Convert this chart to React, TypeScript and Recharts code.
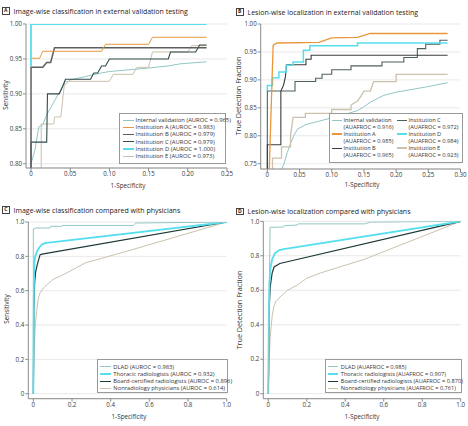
import React from 'react';
import { LineChart, Line, XAxis, YAxis, CartesianGrid } from 'recharts';

type Pt = [number, number];

// Panel A: image-wise classification, external validation (x = 1-specificity, y = sensitivity)
const aInternal: Pt[] = [[0, 0.8], [0.005, 0.82], [0.01, 0.853], [0.015, 0.856], [0.02, 0.87], [0.025, 0.88], [0.03, 0.89], [0.035, 0.9], [0.04, 0.91], [0.045, 0.915], [0.05, 0.92], [0.07, 0.925], [0.09, 0.93], [0.1, 0.932], [0.13, 0.935], [0.15, 0.937], [0.175, 0.94], [0.19, 0.943], [0.224, 0.946]];
const aInstA: Pt[] = [[0, 0.951], [0.011, 0.951], [0.015, 0.961], [0.09, 0.961], [0.095, 0.971], [0.15, 0.971], [0.155, 0.981], [0.224, 0.981]];
const aInstB: Pt[] = [[0, 0.79], [0, 0.938], [0.015, 0.938], [0.02, 0.945], [0.025, 0.945], [0.03, 0.966], [0.224, 0.966]];
const aInstC: Pt[] = [[0, 0.79], [0, 0.831], [0.02, 0.831], [0.021, 0.9], [0.036, 0.9], [0.04, 0.91], [0.044, 0.921], [0.076, 0.921], [0.08, 0.93], [0.085, 0.93], [0.09, 0.94], [0.095, 0.94], [0.1, 0.95], [0.175, 0.95], [0.178, 0.96], [0.21, 0.96], [0.215, 0.97], [0.224, 0.97]];
const aInstD: Pt[] = [[0, 0.94], [0, 1.0], [0.224, 1.0]];
const aInstE: Pt[] = [[0.013, 0.79], [0.013, 0.857], [0.029, 0.857], [0.03, 0.867], [0.038, 0.867], [0.043, 0.918], [0.1, 0.918], [0.105, 0.928], [0.13, 0.928], [0.135, 0.938], [0.15, 0.938], [0.155, 0.96], [0.2, 0.96], [0.205, 0.969], [0.224, 0.969]];

// Panel B: lesion-wise localization, external validation (y = true detection fraction)
const bInternal: Pt[] = [[0.022, 0.74], [0.026, 0.75], [0.031, 0.77], [0.036, 0.786], [0.041, 0.8], [0.047, 0.812], [0.06, 0.82], [0.08, 0.826], [0.1, 0.832], [0.12, 0.838], [0.14, 0.845], [0.15, 0.852], [0.16, 0.86], [0.17, 0.866], [0.18, 0.872], [0.2, 0.878], [0.22, 0.882], [0.25, 0.888], [0.28, 0.895]];
const bInstA: Pt[] = [[0.003, 0.74], [0.009, 0.962], [0.015, 0.966], [0.08, 0.967], [0.1, 0.975], [0.14, 0.976], [0.16, 0.983], [0.28, 0.983]];
const bInstB: Pt[] = [[0, 0.74], [0, 0.784], [0.021, 0.784], [0.021, 0.88], [0.025, 0.89], [0.028, 0.905], [0.03, 0.927], [0.06, 0.927], [0.06, 0.937], [0.068, 0.937], [0.068, 0.944], [0.28, 0.944]];
const bInstC: Pt[] = [[0, 0.74], [0, 0.88], [0.043, 0.88], [0.043, 0.897], [0.075, 0.897], [0.075, 0.903], [0.085, 0.903], [0.085, 0.91], [0.1, 0.91], [0.1, 0.918], [0.13, 0.918], [0.13, 0.925], [0.178, 0.925], [0.178, 0.932], [0.212, 0.932], [0.212, 0.94], [0.233, 0.94], [0.233, 0.956], [0.246, 0.956], [0.246, 0.964], [0.268, 0.964], [0.268, 0.971], [0.28, 0.971]];
const bInstD: Pt[] = [[0, 0.88], [0, 0.89], [0.008, 0.89], [0.008, 0.904], [0.018, 0.904], [0.018, 0.914], [0.029, 0.914], [0.029, 0.926], [0.04, 0.926], [0.04, 0.932], [0.056, 0.932], [0.056, 0.953], [0.066, 0.953], [0.066, 0.961], [0.14, 0.961], [0.14, 0.966], [0.28, 0.966]];
const bInstE: Pt[] = [[0.008, 0.74], [0.008, 0.76], [0.022, 0.76], [0.022, 0.78], [0.036, 0.78], [0.036, 0.8], [0.04, 0.833], [0.059, 0.833], [0.059, 0.84], [0.1, 0.84], [0.1, 0.847], [0.13, 0.847], [0.13, 0.855], [0.14, 0.862], [0.145, 0.87], [0.15, 0.88], [0.16, 0.88], [0.165, 0.897], [0.2, 0.897], [0.2, 0.91], [0.28, 0.91]];

// Panel C: image-wise classification vs physicians
const cDlad: Pt[] = [[0, 0], [0, 0.959], [0.014, 0.965], [0.086, 0.965], [0.09, 0.975], [0.147, 0.975], [0.15, 0.98], [0.517, 0.98], [0.53, 0.994], [1, 1]];
const cThoracic: Pt[] = [[0, 0], [0.002, 0.5], [0.004, 0.7], [0.006, 0.77], [0.01, 0.8], [0.02, 0.83], [0.03, 0.85], [0.045, 0.87], [0.06, 0.877], [0.08, 0.88], [1, 1]];
const cBoard: Pt[] = [[0, 0], [0.003, 0.5], [0.007, 0.65], [0.012, 0.71], [0.02, 0.75], [0.035, 0.81], [0.045, 0.813], [1, 1]];
const cNonrad: Pt[] = [[0, 0], [0.005, 0.25], [0.01, 0.4], [0.017, 0.48], [0.025, 0.55], [0.034, 0.586], [0.052, 0.616], [0.1, 0.664], [0.172, 0.703], [0.267, 0.761], [0.5, 0.835], [1, 1]];

// Panel D: lesion-wise localization vs physicians
const dDlad: Pt[] = [[0, 0], [0.009, 0.965], [0.08, 0.967], [0.085, 0.975], [0.15, 0.978], [0.155, 0.985], [0.5, 0.985], [0.53, 0.995], [1, 1]];
const dThoracic: Pt[] = [[0, 0], [0.003, 0.5], [0.006, 0.65], [0.01, 0.72], [0.02, 0.78], [0.035, 0.815], [0.055, 0.832], [0.08, 0.838], [1, 1]];
const dBoard: Pt[] = [[0, 0], [0.005, 0.5], [0.01, 0.62], [0.02, 0.7], [0.03, 0.735], [0.06, 0.755], [1, 1]];
const dNonrad: Pt[] = [[0, 0], [0.005, 0.2], [0.01, 0.33], [0.02, 0.45], [0.03, 0.51], [0.04, 0.535], [0.06, 0.56], [0.1, 0.6], [0.15, 0.63], [0.2, 0.67], [0.27, 0.7], [0.5, 0.78], [1, 1]];

const aXTicks = [0, 0.05, 0.1, 0.15, 0.2, 0.25];
const aYTicks = [0.8, 0.85, 0.9, 0.95, 1.0];
const bXTicks = [0, 0.05, 0.1, 0.15, 0.2, 0.25, 0.3];
const bYTicks = [0.75, 0.8, 0.85, 0.9, 0.95, 1.0];
const cdTicks = [0, 0.2, 0.4, 0.6, 0.8, 1.0];

const aLegend = ['Internal validation (AUROC = 0.965)', 'Institution A (AUROC = 0.983)', 'Institution B (AUROC = 0.979)', 'Institution C (AUROC = 0.979)', 'Institution D (AUROC = 1.000)', 'Institution E (AUROC = 0.973)'];
const bLegend = [['Internal validation', '(AUAFROC = 0.916)'], ['Institution A', '(AUAFROC = 0.985)'], ['Institution B', '(AUAFROC = 0.965)'], ['Institution C', '(AUAFROC = 0.972)'], ['Institution D', '(AUAFROC = 0.984)'], ['Institution E', '(AUAFROC = 0.923)']];
const cLegend = ['DLAD (AUROC = 0.983)', 'Thoracic radiologists (AUROC = 0.932)', 'Board-certified radiologists (AUROC = 0.896)', 'Nonradiology physicians (AUROC = 0.614)'];
const dLegend = ['DLAD (AUAFROC = 0.985)', 'Thoracic radiologists (AUAFROC = 0.907)', 'Board-certified radiologists (AUAFROC = 0.870)', 'Nonradiology physicians (AUAFROC = 0.761)'];

const FONT = '"Open Sans", sans-serif';
const TEAL = '#92c6c3';
const ORANGE = '#e9973a';
const GRAY = '#5e5e5e';
const SLATE = '#2f4b4b';
const CYAN = '#55dfee';
const TAN = '#cbc1ac';
const DARK = '#1f3838';
const B_DARK = '#3c3c3c';
const B_SLATE = '#4d6060';

const toObj = (pts: Pt[]) => pts.map(([x, y]) => ({ x, y }));
const fmt2 = (v: number) => (v === 0 ? '0' : v.toFixed(2));
const fmt1 = (v: number) => (v === 0 ? '0' : v.toFixed(1));

interface Series { pts: Pt[]; color: string; width: number }

interface PanelProps {
  left: number; top: number; width: number; height: number;
  margin: { top: number; right: number; bottom: number; left: number };
  xDomain: [number, number]; yDomain: [number, number];
  xTicks: number[]; yTicks: number[];
  fmt: (v: number) => string;
  series: Series[];
}

function Panel(p: PanelProps) {
  const tick = { fontSize: 6.2, fill: '#3a3a3a', fontFamily: FONT };
  return (
    <div style={{ position: 'absolute', left: p.left, top: p.top }}>
      <LineChart width={p.width} height={p.height} margin={p.margin}>
        <CartesianGrid vertical={false} stroke="#e3e3e3" strokeWidth={0.8} />
        <XAxis type="number" dataKey="x" domain={p.xDomain} ticks={p.xTicks} allowDataOverflow
          tickFormatter={p.fmt} stroke="#8c8c8c" tickSize={3} tickMargin={1} height={16} tick={tick} />
        <YAxis type="number" dataKey="y" domain={p.yDomain} ticks={p.yTicks} allowDataOverflow
          tickFormatter={p.fmt} stroke="#8c8c8c" tickSize={3} tickMargin={1} width={20} tick={tick} />
        {p.series.map((s, i) => (
          <Line key={i} data={toObj(s.pts)} dataKey="y" type="linear" stroke={s.color}
            strokeWidth={s.width} dot={false} isAnimationActive={false} />
        ))}
      </LineChart>
    </div>
  );
}

function Title({ left, top, letter, text }: { left: number; top: number; letter: string; text: string }) {
  return (
    <div style={{ position: 'absolute', left, top, display: 'flex', alignItems: 'center', fontFamily: FONT, color: '#222' }}>
      <div style={{ width: 5.5, height: 5.5, border: '0.6px solid #444', fontSize: 5, fontWeight: 700, lineHeight: '5.5px', textAlign: 'center' }}>{letter}</div>
      <div style={{ marginLeft: 4, fontSize: 7, whiteSpace: 'nowrap' }}>{text}</div>
    </div>
  );
}

function AxisTitle({ x, y, text, size, rotate }: { x: number; y: number; text: string; size: number; rotate?: boolean }) {
  return (
    <div style={{
      position: 'absolute', left: x, top: y, transform: `translate(-50%, -50%)${rotate ? ' rotate(-90deg)' : ''}`,
      fontFamily: FONT, fontSize: size, color: '#333', whiteSpace: 'nowrap',
    }}>{text}</div>
  );
}

interface LegendItem { color: string; width: number; lines: string[]; x: number; y: number }

function LegendBox({ left, top, width, height, items, lineLen, textGap, size }:
  { left: number; top: number; width: number; height: number; items: LegendItem[]; lineLen: number; textGap: number; size: number }) {
  return (
    <div style={{ position: 'absolute', left, top, width, height, border: '0.7px solid #9a9a9a', background: '#fff', fontFamily: FONT, fontSize: size, color: '#333' }}>
      {items.map((it, i) => (
        <div key={i}>
          <div style={{ position: 'absolute', left: it.x, top: it.y - it.width / 2, width: lineLen, height: it.width, background: it.color }} />
          {it.lines.map((t, j) => (
            <div key={j} style={{ position: 'absolute', left: it.x + lineLen + textGap, top: it.y - 4 + j * 7, lineHeight: '8px', whiteSpace: 'nowrap' }}>{t}</div>
          ))}
        </div>
      ))}
    </div>
  );
}

export default function App() {
  const aColors = [TEAL, ORANGE, GRAY, SLATE, CYAN, TAN];
  const aWidths = [1, 1, 1.4, 1.1, 1.8, 1];
  const bColors = [TEAL, ORANGE, B_DARK, B_SLATE, CYAN, TAN];
  const bWidths = [1, 1.3, 1, 1, 1.5, 1.3];
  const cdColors = [TEAL, CYAN, DARK, TAN];
  const cdWidths = [1, 1.8, 1.2, 1];

  return (
    <div style={{ position: 'absolute', left: 0, top: 0, width: 468, height: 426, background: '#fff', overflow: 'hidden' }}>
      <Title left={2} top={6.5} letter="A" text="Image-wise classification in external validation testing" />
      <Title left={236} top={7.5} letter="B" text="Lesion-wise localization in external validation testing" />
      <Title left={2} top={205.5} letter="C" text="Image-wise classification compared with physicians" />
      <Title left={236} top={207} letter="D" text="Lesion-wise localization compared with physicians" />

      <Panel left={0} top={0} width={234} height={200}
        margin={{ top: 24, right: 7, bottom: 16, left: 6 }}
        xDomain={[-0.0064, 0.25]} yDomain={[0.794, 1.0]} xTicks={aXTicks} yTicks={aYTicks} fmt={fmt2}
        series={[
          { pts: aInternal, color: TEAL, width: 1 },
          { pts: aInstE, color: TAN, width: 1 },
          { pts: aInstC, color: SLATE, width: 1.1 },
          { pts: aInstB, color: GRAY, width: 1.5 },
          { pts: aInstA, color: ORANGE, width: 1 },
          { pts: aInstD, color: CYAN, width: 1.8 },
        ]} />
      <Panel left={234} top={0} width={234} height={200}
        margin={{ top: 24, right: 7.5, bottom: 15, left: 6.7 }}
        xDomain={[-0.0103, 0.3]} yDomain={[0.7405, 1.0]} xTicks={bXTicks} yTicks={bYTicks} fmt={fmt2}
        series={[
          { pts: bInternal, color: TEAL, width: 1 },
          { pts: bInstE, color: TAN, width: 1.3 },
          { pts: bInstC, color: B_SLATE, width: 1.1 },
          { pts: bInstB, color: B_DARK, width: 1.1 },
          { pts: bInstD, color: CYAN, width: 1.5 },
          { pts: bInstA, color: ORANGE, width: 1.3 },
        ]} />
      <Panel left={0} top={200} width={234} height={226}
        margin={{ top: 22, right: 7.3, bottom: 11.3, left: 8.3 }}
        xDomain={[-0.026, 1.0]} yDomain={[-0.029, 1.0]} xTicks={cdTicks} yTicks={cdTicks} fmt={fmt1}
        series={[
          { pts: cNonrad, color: TAN, width: 1 },
          { pts: cBoard, color: DARK, width: 1.2 },
          { pts: cThoracic, color: CYAN, width: 1.8 },
          { pts: cDlad, color: TEAL, width: 1 },
        ]} />
      <Panel left={234} top={200} width={234} height={226}
        margin={{ top: 21.3, right: 7.3, bottom: 11.3, left: 9.3 }}
        xDomain={[-0.026, 1.0]} yDomain={[-0.029, 1.0]} xTicks={cdTicks} yTicks={cdTicks} fmt={fmt1}
        series={[
          { pts: dNonrad, color: TAN, width: 1 },
          { pts: dBoard, color: DARK, width: 1.2 },
          { pts: dThoracic, color: CYAN, width: 1.8 },
          { pts: dDlad, color: TEAL, width: 1 },
        ]} />

      <AxisTitle x={128} y={185} size={6.3} text="1-Specificity" />
      <AxisTitle x={362} y={184} size={6.3} text="1-Specificity" />
      <AxisTitle x={129} y={415.7} size={6.3} text="1-Specificity" />
      <AxisTitle x={362} y={416} size={6.3} text="1-Specificity" />
      <AxisTitle x={5} y={95} size={6.3} text="Sensitivity" rotate />
      <AxisTitle x={238} y={96} size={7.2} text="True Detection Fraction" rotate />
      <AxisTitle x={6} y={309} size={6.3} text="Sensitivity" rotate />
      <AxisTitle x={239} y={310} size={7.2} text="True Detection Fraction" rotate />

      <LegendBox left={119} top={113} width={105} height={49} lineLen={11} textGap={2} size={5.85}
        items={aLegend.map((t, i) => ({ color: aColors[i], width: aWidths[i], lines: [t], x: 2.5, y: 6 + i * 7.2 }))} />
      <LegendBox left={329} top={113} width={132} height={48} lineLen={9.5} textGap={2} size={5.7}
        items={bLegend.map((l, i) => ({ color: bColors[i], width: bWidths[i], lines: l, x: i < 3 ? 2 : 67, y: 6 + (i % 3) * 14 }))} />
      <LegendBox left={97} top={359} width={129} height={32} lineLen={11} textGap={2} size={5.8}
        items={cLegend.map((t, i) => ({ color: cdColors[i], width: cdWidths[i], lines: [t], x: 2.3, y: 6.7 + i * 7.2 }))} />
      <LegendBox left={325} top={359} width={135} height={32} lineLen={10} textGap={2.5} size={5.65}
        items={dLegend.map((t, i) => ({ color: cdColors[i], width: cdWidths[i], lines: [t], x: 2.3, y: 6.7 + i * 7.2 }))} />
    </div>
  );
}
